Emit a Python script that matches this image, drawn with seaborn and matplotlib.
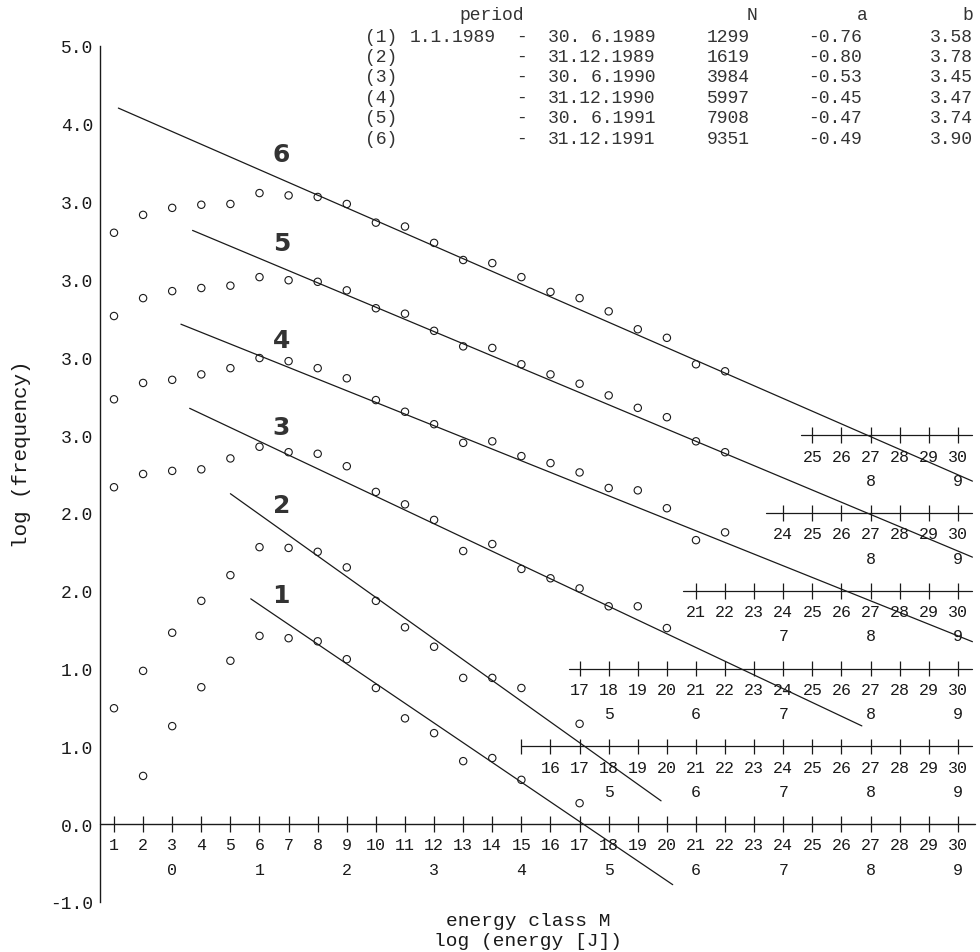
import matplotlib
matplotlib.use('Agg')
import numpy as np
import pandas as pd
import matplotlib.pyplot as plt
import seaborn as sns

# --- data ---
# log(frequency) per energy class, one list per period
cls_1 = [2, 3, 4, 5, 6, 7, 8, 9, 10, 11, 12, 13, 14, 15, 17]
logf_1 = [0.62, 1.26, 1.76, 2.10, 2.42, 2.39, 2.35, 2.12, 1.75, 1.36, 1.17, 0.81, 0.85, 0.57, 0.27]
cls_2 = [1, 2, 3, 4, 5, 6, 7, 8, 9, 10, 11, 12, 13, 14, 15, 17]
logf_2 = [0.49, 0.97, 1.46, 1.87, 2.20, 2.56, 2.55, 2.50, 2.30, 1.87, 1.53, 1.28, 0.88, 0.88, 0.75, 0.29]
cls_3 = list(range(1, 21))
logf_3 = [2.33, 2.50, 2.54, 2.56, 2.70, 2.85, 2.78, 2.76, 2.60, 2.27, 2.11, 1.91, 1.51, 1.60,
          1.28, 1.16, 1.03, 0.80, 0.80, 0.52]
cls_4 = list(range(1, 23))
logf_4 = [2.46, 2.67, 2.71, 2.78, 2.86, 2.99, 2.95, 2.86, 2.73, 2.45, 2.30, 2.14, 1.90, 1.92,
          1.73, 1.64, 1.52, 1.32, 1.29, 1.06, 0.65, 0.75]
cls_5 = list(range(1, 23))
logf_5 = [2.53, 2.76, 2.85, 2.89, 2.92, 3.03, 2.99, 2.97, 2.86, 2.63, 2.56, 2.34, 2.14, 2.12,
          1.91, 1.78, 1.66, 1.51, 1.35, 1.23, 0.92, 0.78]
cls_6 = list(range(1, 23))
logf_6 = [2.60, 2.83, 2.92, 2.96, 2.97, 3.11, 3.08, 3.06, 2.97, 2.73, 2.68, 2.47, 2.25, 2.21,
          2.03, 1.84, 1.76, 1.59, 1.36, 1.25, 0.91, 0.82]

# table in the header
periods_from = ['1.1.1989', '', '', '', '', '']
periods_to = ['30. 6.1989', '31.12.1989', '30. 6.1990', '31.12.1990', '30. 6.1991', '31.12.1991']
n_events = [1299, 1619, 3984, 5997, 7908, 9351]
fit_a = [-0.76, -0.80, -0.53, -0.45, -0.47, -0.49]
fit_b = [3.58, 3.78, 3.45, 3.47, 3.74, 3.90]
# range of energy class covered by each fitted line
line_from = [5.7, 5.0, 3.6, 3.3, 3.7, 1.15]
line_to = [20.2, 19.8, 26.7, 30.5, 30.5, 30.5]

ytick_pos = [-1, 0, 1, 2, 3, 4, 5, 6, 7, 8, 9, 10]
ytick_lab = ['-1.0', '0.0', '1.0', '1.0', '2.0', '2.0', '3.0', '3.0', '3.0', '3.0', '4.0', '5.0']

# secondary energy-class scales (one per shifted period)
sub_level = [1, 2, 3, 4, 5]
sub_left = [15.0, 16.65, 20.55, 23.4, 24.6]
sub_ticks = [list(range(15, 31)), list(range(17, 31)), list(range(21, 31)),
             list(range(24, 31)), list(range(25, 31))]
sub_first_label = [16, 17, 21, 24, 25]
sub_energy = [[5, 6, 7, 8, 9], [5, 6, 7, 8, 9], [7, 8, 9], [8, 9], [8, 9]]

all_cls = [cls_1, cls_2, cls_3, cls_4, cls_5, cls_6]
all_logf = [logf_1, logf_2, logf_3, logf_4, logf_5, logf_6]

rows = []
for k in range(6):
    for c, v in zip(all_cls[k], all_logf[k]):
        rows.append({'period': k + 1, 'cls': c, 'y': v + k})
df = pd.DataFrame(rows)

sns.set_theme(style='white')
plt.rcParams['font.family'] = ['Liberation Mono', 'DejaVu Sans Mono']
ink = '#1a1a1a'

W, H = 980, 953
fig = plt.figure(figsize=(W / 100, H / 100), dpi=100)
ax = fig.add_axes([100 / W, (H - 903) / H, 880 / W, (903 - 47) / H])
ax.set_xlim(0.519, 30.76)
ax.set_ylim(-1, 10)

sns.scatterplot(data=df, x='cls', y='y', ax=ax, marker='o', s=28,
                facecolor='none', edgecolor=ink, linewidth=0.8, legend=False)

# fitted lines: log f = b + a * log E, log E = (M - 3) / 3, shifted by period
for k in range(6):
    xs = np.array([line_from[k], line_to[k]])
    ys = fit_b[k] + fit_a[k] * (xs - 3) / 3 + k
    ax.plot(xs, ys, color=ink, lw=0.9, clip_on=False)
    lx = 6.75
    ly = fit_b[k] + fit_a[k] * (lx - 3) / 3 + k + 0.32
    ax.text(lx, ly, str(k + 1), fontsize=18, fontweight='bold', color='#333333',
            family='DejaVu Sans', ha='center', va='center')

# main energy axis at 0
ax.plot([0.519, 30.58], [0, 0], color=ink, lw=1, clip_on=False)
main_cls = list(range(1, 31))
ax.vlines(main_cls, -0.1, 0.1, color=ink, lw=0.9)
for c in main_cls:
    ax.text(c, -0.26, str(c), fontsize=12, ha='center', va='center', color=ink)
for e in range(10):
    ax.text(3 + 3 * e, -0.58, str(e), fontsize=12, ha='center', va='center', color=ink)

# shifted energy axes
for i in range(5):
    lev = sub_level[i]
    ax.plot([sub_left[i], 30.5], [lev, lev], color=ink, lw=0.9, clip_on=False)
    ax.vlines(sub_ticks[i], lev - 0.1, lev + 0.1, color=ink, lw=0.9)
    for c in range(sub_first_label[i], 31):
        ax.text(c, lev - 0.27, str(c), fontsize=12, ha='center', va='center', color=ink)
    for e in sub_energy[i]:
        ax.text(3 + 3 * e, lev - 0.58, str(e), fontsize=12, ha='center', va='center', color=ink)

ax.set_xticks([])
ax.set_yticks(ytick_pos)
ax.set_yticklabels(ytick_lab, fontsize=13, color=ink)
ax.tick_params(axis='y', length=2, width=0.8, pad=3, colors=ink)
for s in ['top', 'right', 'bottom']:
    ax.spines[s].set_visible(False)
ax.spines['left'].set_color(ink)
ax.spines['left'].set_linewidth(1.0)
ax.set_xlabel('')
ax.set_ylabel('')
ax.patch.set_alpha(0)


def ftext(x, y, s, **kw):
    fig.text(x / W, 1 - y / H, s, color=kw.pop('color', ink), va='center', **kw)


ftext(22, 454, 'log (frequency)', fontsize=15, rotation=90, ha='center')
ftext(528, 922, 'energy class M', fontsize=14, ha='center')
ftext(528, 942, 'log (energy [J])', fontsize=14, ha='center')

# header table
hd = '#333333'
ftext(492, 15, 'period', fontsize=13, ha='center', color=hd)
ftext(752, 15, 'N', fontsize=13, ha='center', color=hd)
ftext(862, 15, 'a', fontsize=13, ha='center', color=hd)
ftext(968, 15, 'b', fontsize=13, ha='center', color=hd)
for k in range(6):
    yy = 37 + k * 20.4
    ftext(365, yy, '(%d)' % (k + 1), fontsize=13, ha='left', color=hd)
    if periods_from[k]:
        ftext(410, yy, periods_from[k], fontsize=13, ha='left', color=hd)
    ftext(521, yy, '-', fontsize=13, ha='center', color=hd)
    ftext(548, yy, periods_to[k], fontsize=13, ha='left', color=hd)
    ftext(750, yy, str(n_events[k]), fontsize=13, ha='right', color=hd)
    ftext(862, yy, '%.2f' % fit_a[k], fontsize=13, ha='right', color=hd)
    ftext(973, yy, '%.2f' % fit_b[k], fontsize=13, ha='right', color=hd)

fig.savefig('out.png', dpi=100, facecolor='white')
